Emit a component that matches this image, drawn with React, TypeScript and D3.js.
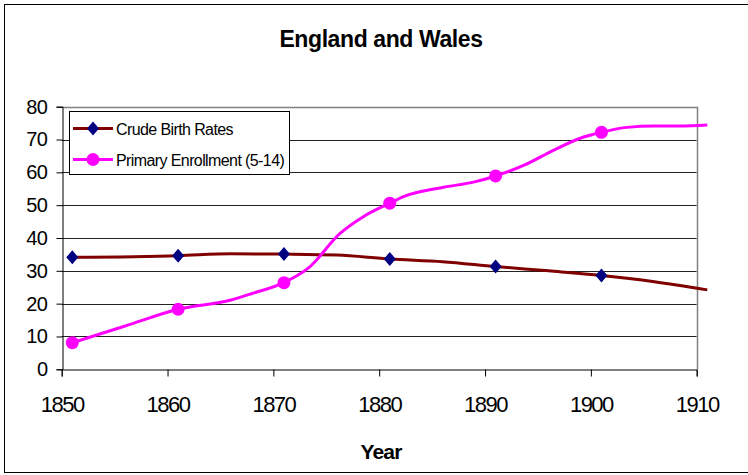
import React, { useEffect, useRef } from 'react';
import * as d3 from 'd3';

// values
const birthYears = [1851, 1861, 1866, 1871, 1876, 1881, 1886, 1891, 1896, 1901, 1906, 1911];
const birthRates = [34.1, 34.6, 35.2, 35.1, 34.8, 33.6, 32.8, 31.3, 30.0, 28.6, 26.7, 24.2];
const birthMarkerYears = [1851, 1861, 1871, 1881, 1891, 1901];
const birthMarkerValues = [34.1, 34.6, 35.1, 33.6, 31.3, 28.6];

const enrollYears = [1851, 1856, 1861, 1866, 1868, 1871, 1873.3, 1876.3, 1878.5, 1881, 1882.3, 1886, 1889, 1891, 1893.7, 1896.5, 1899, 1901, 1903.4, 1906, 1908.4, 1911];
const enrollValues = [8.1, 13.2, 18.3, 21.1, 23.1, 26.4, 30.8, 41.4, 46.5, 50.6, 52.6, 55.4, 57.1, 58.9, 62.2, 66.8, 70.4, 72.2, 73.7, 74.1, 74.1, 74.4];
const enrollMarkerYears = [1851, 1861, 1871, 1881, 1891, 1901];
const enrollMarkerValues = [8.1, 18.3, 26.4, 50.6, 58.9, 72.2];

const xTicks = [1850, 1860, 1870, 1880, 1890, 1900, 1910];
const yTicks = [0, 10, 20, 30, 40, 50, 60, 70, 80];

const seriesNames = ['Crude Birth Rates', 'Primary Enrollment (5-14)'];

const W = 748;
const H = 475;

const App = () => {
  const svgRef = useRef<SVGSVGElement>(null);

  useEffect(() => {
    document.body.style.margin = '0';
    if (!svgRef.current) return;
    const svg = d3.select(svgRef.current);
    svg.selectAll('*').remove();

    const left = 61.7, right = 696.7, top = 106.7, bottom = 369.3;
    const x = d3.scaleLinear().domain([1850, 1910]).range([left, right]);
    const y = d3.scaleLinear().domain([0, 80]).range([bottom, top]);
    const font = 'Liberation Sans, Arial, sans-serif';

    svg.append('rect').attr('width', W).attr('height', H).attr('fill', '#fff');
    // outer chart frame
    svg.append('rect')
      .attr('x', 4.5).attr('y', 4.5).attr('width', W + 20).attr('height', 468)
      .attr('fill', 'none').attr('stroke', '#000').attr('stroke-width', 1);

    // title
    svg.append('text')
      .attr('x', 381).attr('y', 47)
      .attr('text-anchor', 'middle')
      .attr('font-family', font).attr('font-weight', 'bold').attr('font-size', 23)
      .attr('letter-spacing', -0.4)
      .text('England and Wales');

    // gridlines
    svg.append('g')
      .selectAll('line')
      .data(yTicks.slice(1, -1))
      .enter()
      .append('line')
      .attr('x1', left).attr('x2', right)
      .attr('y1', (d) => Math.round(y(d)) + 0.5).attr('y2', (d) => Math.round(y(d)) + 0.5)
      .attr('stroke', '#222').attr('stroke-width', 1);

    // plot border (top / right)
    svg.append('path')
      .attr('d', `M${left},${Math.round(top) + 0.5}H${Math.round(right) + 0.5}V${bottom}`)
      .attr('fill', 'none').attr('stroke', '#808080').attr('stroke-width', 1.5);

    // axes
    const yAxis = d3.axisLeft(y).tickValues(yTicks).tickSize(6).tickPadding(9);
    const yg = svg.append('g').attr('transform', `translate(${Math.round(left) + 0.5},0)`).call(yAxis);
    yg.select('.domain').attr('stroke', '#000');
    yg.selectAll('line').attr('stroke', '#000');
    yg.selectAll('text')
      .attr('font-family', font).attr('font-size', 20).attr('letter-spacing', -0.5)
      .attr('fill', '#000');

    const xAxis = d3.axisBottom(x).tickValues(xTicks).tickFormat(d3.format('d')).tickSize(7).tickPadding(20);
    const xg = svg.append('g').attr('transform', `translate(0,${Math.round(bottom) + 0.5})`).call(xAxis);
    xg.select('.domain').attr('stroke', '#000');
    xg.selectAll('line').attr('stroke', '#000');
    xg.selectAll('text')
      .attr('font-family', font).attr('font-size', 22).attr('letter-spacing', -1.5)
      .attr('fill', '#000');

    svg.append('text')
      .attr('x', 381).attr('y', 459)
      .attr('text-anchor', 'middle')
      .attr('font-family', font).attr('font-weight', 'bold').attr('font-size', 21)
      .attr('letter-spacing', -0.8)
      .text('Year');

    const line = d3.line<[number, number]>()
      .x((d) => x(d[0]))
      .y((d) => y(d[1]))
      .curve(d3.curveMonotoneX);

    const birthData = birthYears.map((yr, i) => [yr, birthRates[i]] as [number, number]);
    const enrollData = enrollYears.map((yr, i) => [yr, enrollValues[i]] as [number, number]);

    svg.append('path').datum(birthData)
      .attr('d', line).attr('fill', 'none').attr('stroke', '#800000').attr('stroke-width', 3);
    svg.append('path').datum(enrollData)
      .attr('d', line).attr('fill', 'none').attr('stroke', '#ff00ff').attr('stroke-width', 3);

    const diamond = (cx: number, cy: number) =>
      `M${cx},${cy - 7}L${cx + 6},${cy}L${cx},${cy + 7}L${cx - 6},${cy}Z`;

    svg.append('g')
      .selectAll('path')
      .data(birthMarkerYears)
      .enter()
      .append('path')
      .attr('d', (d, i) => diamond(x(d), y(birthMarkerValues[i])))
      .attr('fill', '#000080');

    svg.append('g')
      .selectAll('circle')
      .data(enrollMarkerYears)
      .enter()
      .append('circle')
      .attr('cx', (d) => x(d))
      .attr('cy', (d, i) => y(enrollMarkerValues[i]))
      .attr('r', 6.5)
      .attr('fill', '#ff00ff');

    // legend
    const lg = svg.append('g');
    lg.append('rect')
      .attr('x', 69.5).attr('y', 111.5).attr('width', 220).attr('height', 63)
      .attr('fill', '#fff').attr('stroke', '#000').attr('stroke-width', 1);
    const rows = [128.5, 159.5];
    lg.append('line').attr('x1', 73).attr('x2', 113).attr('y1', rows[0]).attr('y2', rows[0])
      .attr('stroke', '#800000').attr('stroke-width', 3);
    lg.append('path').attr('d', diamond(93, rows[0])).attr('fill', '#000080');
    lg.append('line').attr('x1', 73).attr('x2', 113).attr('y1', rows[1]).attr('y2', rows[1])
      .attr('stroke', '#ff00ff').attr('stroke-width', 3);
    lg.append('circle').attr('cx', 93).attr('cy', rows[1]).attr('r', 6.5).attr('fill', '#ff00ff');
    lg.selectAll('text.leg')
      .data(seriesNames)
      .enter()
      .append('text')
      .attr('class', 'leg')
      .attr('x', 116)
      .attr('y', (d, i) => rows[i] + 6)
      .attr('font-family', font).attr('font-size', 16).attr('letter-spacing', -0.6)
      .text((d) => d);
  }, []);

  return <svg ref={svgRef} width={W} height={H} style={{ display: 'block' }}></svg>;
};

export default App;
